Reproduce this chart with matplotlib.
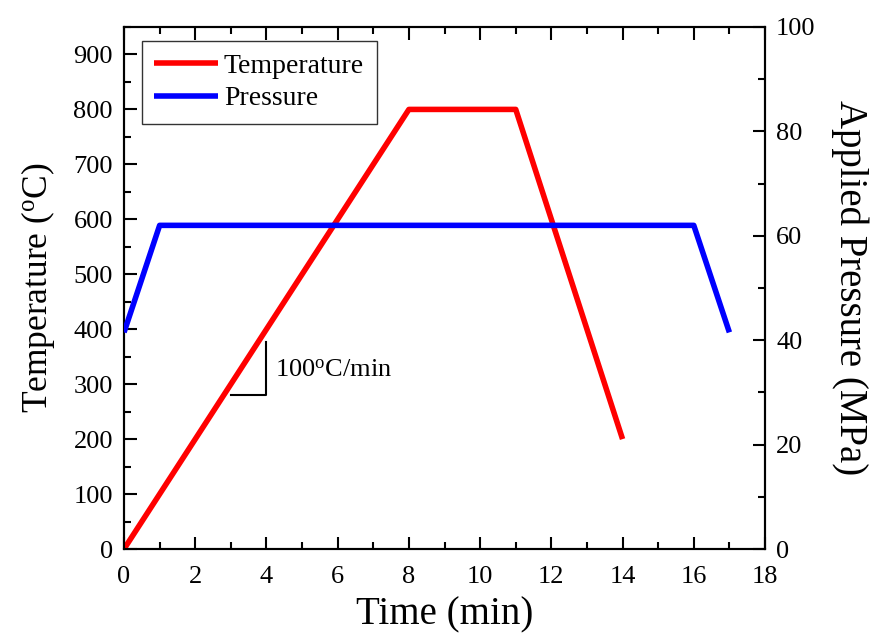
import matplotlib
matplotlib.use("Agg")
from matplotlib import pyplot as plt
from matplotlib.ticker import MultipleLocator

plt.rcParams['font.family'] = ['Liberation Serif', 'DejaVu Serif']
plt.rcParams['mathtext.fontset'] = 'custom'
plt.rcParams['mathtext.rm'] = 'Liberation Serif'
plt.rcParams['mathtext.it'] = 'Liberation Serif:italic'

# data
temp_time = [0, 8, 11, 14]
temp_values = [0, 800, 800, 200]
press_time = [0, 1, 16, 17]
press_values = [41.5, 62, 62, 41.5]
slope_x = [3, 4, 4]
slope_y = [280, 280, 376]

fig = plt.figure(figsize=(8.71, 6.35), dpi=100)
ax = fig.add_axes([0.1424, 0.1354, 0.7359, 0.8221])
ax2 = ax.twinx()

l1, = ax.plot(temp_time, temp_values, color='red', lw=4, label='Temperature',
              solid_capstyle='butt', zorder=3)
l2, = ax2.plot(press_time, press_values, color='blue', lw=4, label='Pressure',
               solid_capstyle='butt', zorder=3)

ax.plot(slope_x, slope_y, color='black', lw=1.5)
ax.text(4.25, 325, '100$^\\mathrm{o}$C/min', fontsize=19, va='center')

ax.set_xlim(0, 18)
ax.set_ylim(0, 950)
ax2.set_ylim(0, 100)

ax.xaxis.set_major_locator(MultipleLocator(2))
ax.xaxis.set_minor_locator(MultipleLocator(1))
ax.yaxis.set_major_locator(MultipleLocator(100))
ax.yaxis.set_minor_locator(MultipleLocator(50))
ax2.yaxis.set_major_locator(MultipleLocator(20))
ax2.yaxis.set_minor_locator(MultipleLocator(10))

ax.tick_params(which='both', direction='in', top=True, labelsize=19, width=1.5, pad=8)
ax.tick_params(axis='x', which='both', pad=12)
ax.tick_params(which='major', length=9)
ax.tick_params(which='minor', length=5)
ax.tick_params(axis='y', right=False)
ax2.tick_params(which='both', direction='in', labelsize=19, width=1.5, pad=8)
ax2.tick_params(which='major', length=9)
ax2.tick_params(which='minor', length=5)
for a in (ax, ax2):
    for s in a.spines.values():
        s.set_linewidth(1.5)

ax.set_xlabel('Time (min)', fontsize=28, labelpad=6)
ax.set_ylabel('Temperature ($^\\mathrm{o}$C)', fontsize=25.5, labelpad=12)
ax2.set_ylabel('Applied Pressure (MPa)', fontsize=28, rotation=270, labelpad=38)

leg = ax.legend(handles=[l1, l2], loc='upper left', fontsize=20, frameon=True,
                fancybox=False, handlelength=2.3, handletextpad=0.2,
                borderpad=0.45, labelspacing=0.25, borderaxespad=0,
                bbox_to_anchor=(0.028, 0.973))
leg.get_frame().set_edgecolor('black')
leg.get_frame().set_linewidth(1.0)

fig.savefig('out.png', dpi=100)
